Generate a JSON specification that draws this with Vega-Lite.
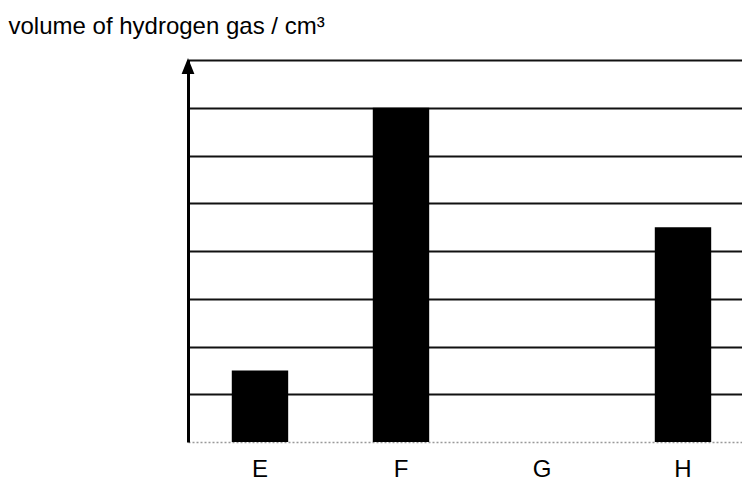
{
  "$schema": "https://vega.github.io/schema/vega-lite/v6.json",
  "autosize": "none",
  "width": 554,
  "height": 382,
  "padding": {"left": 188, "top": 60, "right": 0, "bottom": 49},
  "background": "white",
  "config": {"view": {"stroke": null}},
  "layer": [
    {
      "data": {"values": [
        {"sample": "E", "volume": 1.5},
        {"sample": "F", "volume": 7},
        {"sample": "G", "volume": 0},
        {"sample": "H", "volume": 4.5}
      ]},
      "mark": {"type": "bar", "color": "black"},
      "encoding": {
        "x": {
          "field": "sample", "type": "nominal", "sort": null,
          "scale": {"paddingInner": 0.6, "paddingOuter": 0.2645, "align": 0.587},
          "axis": {
            "title": null, "labelAngle": 0, "ticks": false,
            "labelFont": "Liberation Sans", "labelFontSize": 24, "labelColor": "black",
            "labelBaseline": "top", "labelPadding": 15,
            "domainColor": "#999", "domainDash": [2, 2], "domainWidth": 1.5
          }
        },
        "y": {
          "field": "volume", "type": "quantitative",
          "scale": {"domain": [0, 8], "nice": false, "zero": true},
          "axis": {
            "title": "volume of hydrogen gas / cm³",
            "titleAngle": 0, "titleAlign": "left", "titleBaseline": "alphabetic",
            "titleX": -180, "titleY": -27,
            "titleFont": "Liberation Sans", "titleFontSize": 24, "titleFontWeight": "normal", "titleColor": "black",
            "labels": false, "ticks": false,
            "values": [1, 2, 3, 4, 5, 6, 7, 8],
            "grid": true, "gridColor": "#111", "gridWidth": 1.8, "gridOpacity": 1,
            "domain": true, "domainColor": "black", "domainWidth": 3
          }
        }
      }
    },
    {
      "data": {"values": [{"pos": 0, "volume": 8}]},
      "mark": {"type": "point", "shape": "M-0.8,1L0,-1L0.8,1Z", "filled": true, "color": "black", "opacity": 1, "size": 256, "yOffset": 6},
      "encoding": {
        "x": {"field": "pos", "type": "quantitative", "scale": {"domain": [0, 1], "nice": false}, "axis": null},
        "y": {"field": "volume", "type": "quantitative"}
      }
    }
  ],
  "resolve": {"scale": {"x": "independent"}}
}
